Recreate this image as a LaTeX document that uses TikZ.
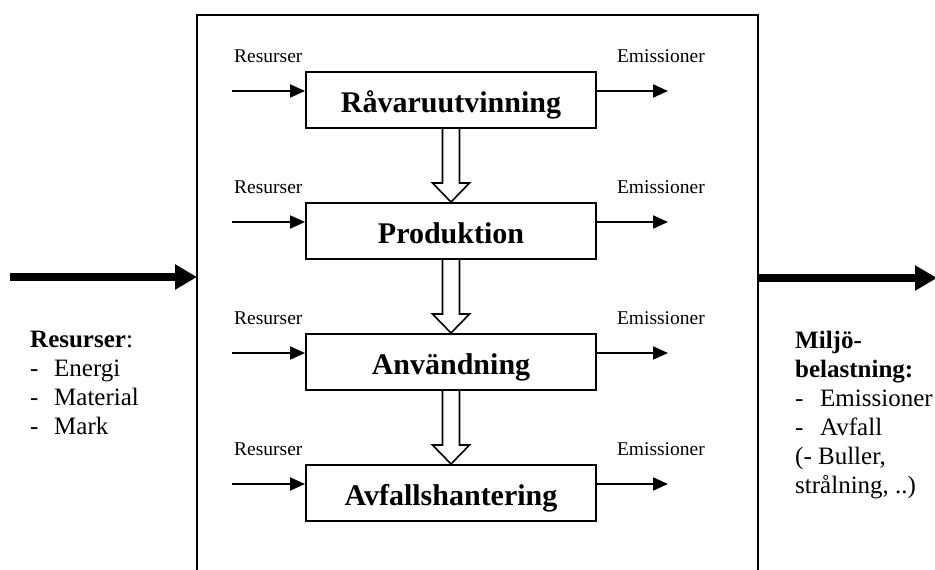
\documentclass[tikz,border=0pt]{standalone}
\usepackage{fontspec}
\setmainfont{Liberation Serif}
\usetikzlibrary{arrows.meta}
\begin{document}
\begin{tikzpicture}[x=1pt,y=-1pt,
  proc/.style={draw, line width=2pt, minimum width=290pt, minimum height=56pt, inner sep=0pt,
    text height=24pt, text depth=0pt, font=\fontsize{30}{34}\selectfont\bfseries, anchor=north},
  small/.style={font=\fontsize{19.5}{22}\selectfont, inner sep=0pt},
  side/.style={font=\fontsize{25}{29}\selectfont, inner sep=0pt, anchor=base west},
  flow/.style={line width=2pt, -{Triangle[length=15pt,width=13pt]}},
  big/.style={line width=8pt, -{Triangle[length=22pt,width=24pt]}},
  hollow/.style={line width=1.6pt, line join=miter}
]
\useasboundingbox (0,0) rectangle (935,570);
% outer frame (open at the bottom)
\draw[line width=2pt] (197,580) -- (197,15) -- (758,15) -- (758,580);

% process boxes
\node[proc] (b1) at (451,71) {Råvaruutvinning};
\node[proc] (b2) at (451,202) {Produktion};
\node[proc] (b3) at (451,333) {Användning};
\node[proc] (b4) at (451,464) {Avfallshantering};

% resource / emission arrows and labels
\foreach \bx in {b1,b2,b3,b4} {
  \coordinate (\bx-in) at ([xshift=-73pt,yshift=9pt]\bx.west);
  \coordinate (\bx-out) at ([xshift=71pt,yshift=9pt]\bx.east);
  \draw[flow] (\bx-in) -- ([yshift=9pt]\bx.west);
  \draw[flow] ([yshift=9pt]\bx.east) -- (\bx-out);
  \node[small, anchor=base west] (\bx-res) at ([xshift=-71pt,yshift=9pt]\bx.north west) {Resurser};
  \node[small, anchor=base east] (\bx-em) at ([xshift=108pt,yshift=9pt]\bx.north east) {Emissioner};
}

% hollow flow arrows between boxes
\foreach \p/\q in {b1/b2,b2/b3,b3/b4} {
  \draw[hollow] ([xshift=-8.5pt]\p.south) -- ([xshift=-8.5pt,yshift=19pt]\q.north)
    -- ([xshift=-18.5pt,yshift=19pt]\q.north) -- (\q.north)
    -- ([xshift=18.5pt,yshift=19pt]\q.north) -- ([xshift=8.5pt,yshift=19pt]\q.north)
    -- ([xshift=8.5pt]\p.south);
}

% big arrows
\coordinate (Lin) at (10,277);
\coordinate (Lout) at (197,277);
\coordinate (Rin) at (758,278);
\coordinate (Rout) at (937,278);
\draw[big] (Lin) -- (Lout);
\draw[big] (Rin) -- (Rout);

% side texts
\node[side] (l1) at (30,347) {\textbf{Resurser}:};
\node[side] (l2) at (30,376) {\makebox[24pt][l]{-}Energi};
\node[side] (l3) at (30,405) {\makebox[24pt][l]{-}Material};
\node[side] (l4) at (30,434) {\makebox[24pt][l]{-}Mark};

\node[side] (r1) at (795,348) {\textbf{Miljö-}};
\node[side] (r2) at (795,377) {\textbf{belastning:}};
\node[side] (r3) at (795,406) {\makebox[25pt][l]{-}Emissioner};
\node[side] (r4) at (795,435) {\makebox[25pt][l]{-}Avfall};
\node[side] (r5) at (795,464) {(- Buller,};
\node[side] (r6) at (795,493) {strålning, ..)};
\end{tikzpicture}
\end{document}
